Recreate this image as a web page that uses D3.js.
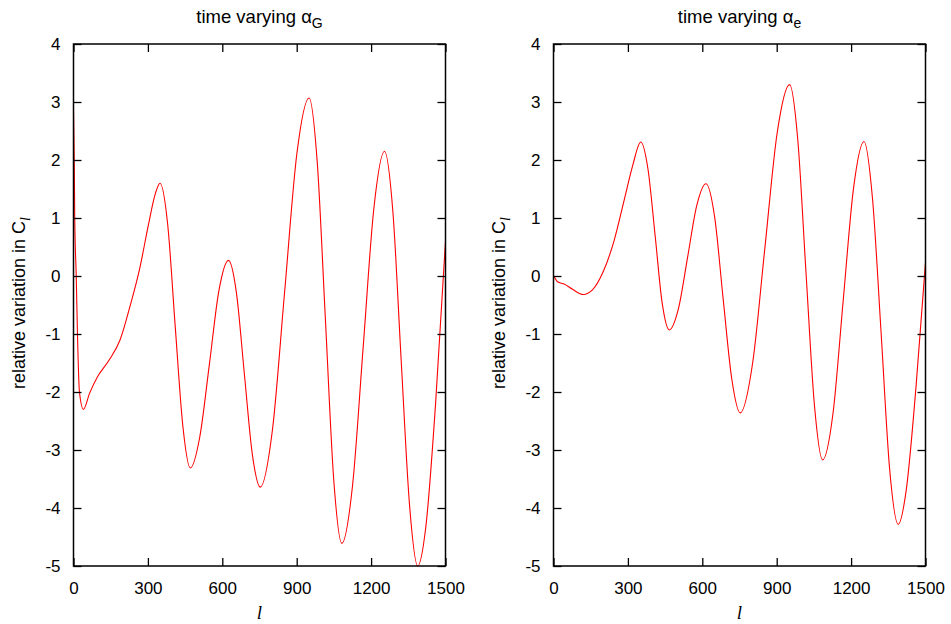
<!DOCTYPE html>
<html>
<head>
<meta charset="utf-8">
<script src="https://cdn.jsdelivr.net/npm/d3@7"></script>
<style>
  body { margin: 0; background: #fff; }
  svg { display: block; font-family: "Liberation Sans", Arial, sans-serif; }
</style>
</head>
<body>
<div class="app"></div>
<script>
// tick labels
var xTicks = [0, 300, 600, 900, 1200, 1500];
var yTicks = [-5, -4, -3, -2, -1, 0, 1, 2, 3, 4];

// time varying alpha_G : multipole l and relative variation
var lG = [0, 3, 5, 11, 16, 24, 40, 65, 98, 145, 188, 228, 268, 302, 330, 349,
          380, 410, 441, 471, 509, 548, 586, 625, 657, 689, 721, 753,
          802, 851, 901, 950, 983, 1016, 1049, 1082, 1125, 1168, 1211, 1254,
          1288, 1321, 1355, 1388, 1420, 1460, 1500];
var vG = [2.88, 2.0, 1.0, 0.0, -1.0, -2.0, -2.30, -2.02, -1.73, -1.44, -1.10, -0.52, 0.15, 0.88, 1.42, 1.60,
          0.88, -0.86, -2.59, -3.31, -2.78, -1.52, -0.26, 0.27, -0.29, -1.69, -3.07, -3.64,
          -2.66, -0.29, 2.12, 3.07, 1.95, -0.77, -3.49, -4.61, -3.62, -1.23, 1.16, 2.15,
          1.10, -1.43, -3.95, -5.0, -4.35, -2.2, 0.6];

// time varying alpha_e
var lE = [0, 8, 16, 43, 77, 120, 157, 198, 245, 285, 319, 352,
          381, 410, 438, 467, 504, 541, 578, 615, 650, 684, 719, 753,
          803, 852, 902, 952, 985, 1018, 1052, 1085, 1127, 1168, 1210, 1252,
          1286, 1321, 1355, 1390, 1422, 1461, 1500];
var vE = [0.01, -0.05, -0.10, -0.14, -0.23, -0.32, -0.24, 0.05, 0.62, 1.31, 1.90, 2.31,
          1.84, 0.69, -0.46, -0.93, -0.56, 0.33, 1.22, 1.59, 1.01, -0.39, -1.78, -2.36,
          -1.50, 0.47, 2.47, 3.30, 2.35, 0.07, -2.22, -3.17, -2.37, -0.43, 1.52, 2.32,
          1.35, -0.98, -3.31, -4.28, -3.7, -1.95, 0.23];

var width = 951, height = 624;
var svg = d3.select(".app").append("svg")
    .attr("width", width)
    .attr("height", height);

var plotTop = 44, plotBottom = 566;

function drawPanel(left, right, ls, vs, sub, labelX) {
  var x = d3.scaleLinear().domain([0, 1500]).range([left, right]);
  var y = d3.scaleLinear().domain([-5, 4]).range([plotBottom, plotTop]);
  var data = ls.map(function(l, i) { return [l, vs[i]]; });

  var g = svg.append("g");

  // curve
  var line = d3.line()
      .x(function(d) { return x(d[0]); })
      .y(function(d) { return y(d[1]); })
      .curve(d3.curveMonotoneX);
  g.append("path")
      .datum(data)
      .attr("fill", "none")
      .attr("stroke", "#ff0000")
      .attr("stroke-width", 1.1)
      .attr("d", line);

  // axes with inward ticks, mirrored
  var fmt = function(d) { return d; };
  g.append("g").attr("transform", "translate(0," + plotBottom + ")")
      .call(d3.axisBottom(x).tickValues(xTicks).tickSize(-8).tickPadding(16).tickFormat(fmt));
  g.append("g").attr("transform", "translate(0," + plotTop + ")")
      .call(d3.axisTop(x).tickValues(xTicks).tickSize(-8).tickFormat(""));
  g.append("g").attr("transform", "translate(" + left + ",0)")
      .call(d3.axisLeft(y).tickValues(yTicks).tickSize(-8).tickPadding(13).tickFormat(fmt));
  g.append("g").attr("transform", "translate(" + right + ",0)")
      .call(d3.axisRight(y).tickValues(yTicks).tickSize(-8).tickFormat(""));

  g.selectAll(".domain").remove();
  g.selectAll(".tick line").attr("stroke", "#000").attr("stroke-width", 1.3);
  g.selectAll(".tick text").attr("fill", "#000").style("font-size", "17px")
      .style("font-family", "'Liberation Sans', Arial, sans-serif");

  // frame
  g.append("rect")
      .attr("x", left).attr("y", plotTop)
      .attr("width", right - left).attr("height", plotBottom - plotTop)
      .attr("fill", "none").attr("stroke", "#000").attr("stroke-width", 1.5);

  // title
  var t = g.append("text")
      .attr("x", (left + right) / 2).attr("y", 23)
      .attr("text-anchor", "middle")
      .style("font-size", "18.5px");
  t.append("tspan").text("time varying \u03b1");
  t.append("tspan").attr("dy", 5).style("font-size", "14px").text(sub);

  // x label
  g.append("text")
      .attr("x", (left + right) / 2).attr("y", 619)
      .attr("text-anchor", "middle")
      .style("font-family", "'Liberation Serif', 'Times New Roman', serif")
      .style("font-style", "italic")
      .style("font-size", "19px")
      .text("l");

  // y label
  var yl = g.append("text")
      .attr("transform", "translate(" + labelX + "," + 303 + ")rotate(-90)")
      .attr("text-anchor", "middle")
      .style("font-size", "18px");
  yl.append("tspan").text("relative variation in C");
  yl.append("tspan").attr("dy", 5).style("font-size", "14px")
      .style("font-family", "'Liberation Serif', serif").style("font-style", "italic").text("l");
}

drawPanel(73.5, 445.5, lG, vG, "G", 25);
drawPanel(553.5, 925.5, lE, vE, "e", 505);
</script>
</body>
</html>
